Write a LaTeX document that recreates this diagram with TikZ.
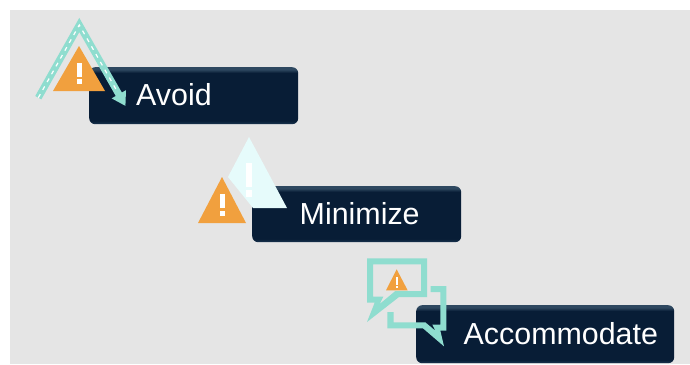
\documentclass[tikz,border=0pt]{standalone}
\usepackage{fontspec}
\setmainfont{Liberation Sans}
\usetikzlibrary{arrows.meta,calc}
\definecolor{bggrey}{HTML}{E5E5E5}
\definecolor{navy}{HTML}{081D36}
\definecolor{teal}{HTML}{8FDDCF}
\definecolor{amber}{HTML}{F1A03E}
\definecolor{pale}{HTML}{E6FBFB}
\definecolor{navylight}{HTML}{2E4860}
\definecolor{navyedge}{HTML}{1A3550}
\pgfdeclareverticalshading{navyshade}{100bp}{
  color(0bp)=(navyedge); color(25bp)=(navyedge); color(28bp)=(navy);
  color(50bp)=(navy); color(70bp)=(navy); color(73bp)=(navylight); color(75bp)=(navylight); color(100bp)=(navylight)}
\tikzset{
  x=1pt,y=-1pt,
  stagebox/.style={anchor=north west,shading=navyshade,rounded corners=6pt,inner sep=0pt,
    align=left,text=white,font=\fontsize{30.4}{33}\selectfont},
  warn/.style={fill=amber,draw=none},
  mark bar/.style={fill=white,draw=none},
  bubble/.style={fill=teal,draw=none,even odd rule},
  zoomed/.style={shift={(360,252)},x=0.33333pt,y=-0.33333pt}
}
\newcommand{\stage}[7]{\node[stagebox,minimum width=#4pt,minimum height=#5pt,text width=#4pt] (#1) at (#2,#3) {\hspace*{#6pt}\raisebox{1.5pt}{#7}};}
\begin{document}
\begin{tikzpicture}
\useasboundingbox (0,0) rectangle (690,364);
\fill[white] (0,0) rectangle (690,364);
\fill[bggrey] (10,10) rectangle (690,364);
\stage{avoid}{89}{67}{209}{57}{47}{Avoid}
\stage{minimize}{252}{186}{209}{56}{47.5}{Minimize}
\stage{accommodate}{416}{305}{258}{58}{47.5}{Accommodate}
% Avoid icon
\coordinate (arrowstart) at (38.3,97.7);
\coordinate (arrowapex) at (79.3,25);
\coordinate (arrowtip) at (125.5,106);
\fill[warn] (79,46) -- (105,91) -- (53,91) -- cycle;
\draw[teal,line width=7pt,line join=miter,-{Triangle[length=13.5pt,width=15.5pt]}] (arrowstart) -- (arrowapex) -- (arrowtip);
\draw[white,line width=1.2pt,dash pattern=on 4pt off 5pt] (arrowstart) -- (arrowapex) -- ($(arrowapex)!0.8!(arrowtip)$);
\fill[mark bar] (76.5,63) rectangle (81.5,77);
\fill[mark bar] (76.5,79) rectangle (81.5,84);
% Minimize icon
\fill[warn] (222,177) -- (246,223) -- (198,223) -- cycle;
\fill[mark bar] (220,194) rectangle (225,208);
\fill[mark bar] (220,211) rectangle (225,216);
\fill[pale] (249,137) -- (287,208) -- (253,208) -- (228,177) -- cycle;
\fill[mark bar] (246,163) rectangle (252,187);
\fill[mark bar] (246,190) rectangle (252,197);
% Accommodate icon
\begin{scope}[zoomed]
\fill[bubble] (21,19) -- (201,19) -- (201,135) -- (117,135) -- (21,210) -- (44,152) -- (21,152) -- cycle
  (39,37) -- (183,37) -- (183,117) -- (106,117) -- (59,156) -- (70,134) -- (39,134) -- cycle;
\fill[bubble] (212,102) -- (259,102) -- (259,236) -- (241,236) -- (252,283) -- (189,229) -- (82,229) -- (82,180)
  -- (101,180) -- (101,211) -- (196,211) -- (226,236) -- (217,218) -- (241,218) -- (241,120) -- (212,120) -- cycle;
\fill[warn] (110,52) -- (143,115) -- (78,115) -- cycle;
\fill[mark bar] (107,76) rectangle (113,98);
\fill[mark bar] (107,102) rectangle (113,109);
\end{scope}
\end{tikzpicture}
\end{document}
